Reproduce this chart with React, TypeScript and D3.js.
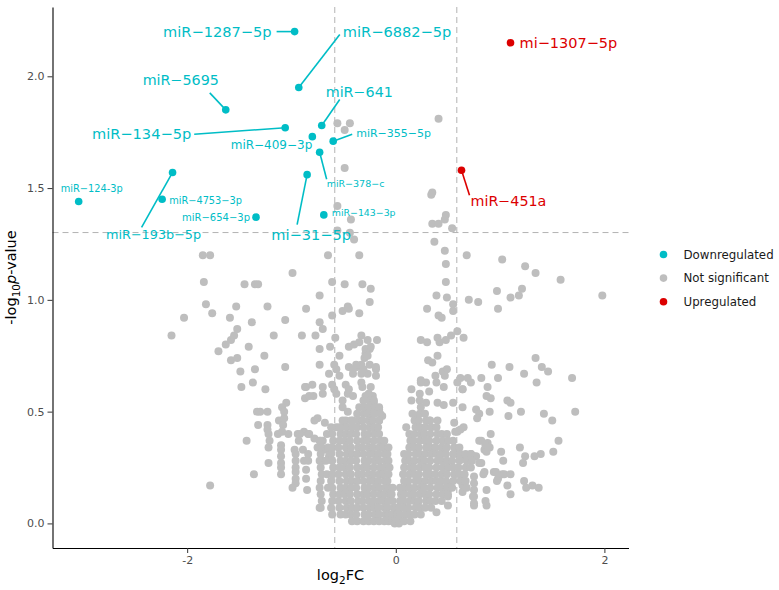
import React, { useEffect, useRef } from "react";
import * as d3 from "d3";

// significant miRNAs
const downNames = [
  "miR−1287−5p", "miR−6882−5p", "miR−5695", "miR−641", "miR−134−5p", "miR−409−3p", "miR−355−5p",
  "miR−378−c", "mi−31−5p", "miR−193b−5p", "miR−124-3p", "miR−4753−3p", "miR−654−3p", "miR−143−3p",
];
const downLog2FC = [-0.97, -0.93, -1.63, -0.71, -1.06, -0.8, -0.6, -0.73, -0.85, -2.14, -3.04, -2.24, -1.34, -0.69];
const downNegLogP = [2.2, 1.95, 1.85, 1.78, 1.77, 1.73, 1.71, 1.66, 1.56, 1.57, 1.44, 1.45, 1.37, 1.38];

const upNames = ["mi−1307−5p", "miR−451a"];
const upLog2FC = [1.1, 0.63];
const upNegLogP = [2.15, 1.58];

// not significant miRNAs [log2FC, -log10 p]
const notSignificant: [number, number][] = [
  // left, sparse
  [-2.15, 0.84], [-2.03, 0.92], [-1.85, 1.2], [-1.78, 1.2], [-1.84, 1.08], [-1.82, 0.98], [-1.76, 0.94], [-1.7, 0.77],
  [-1.63, 0.8], [-1.58, 0.82], [-1.55, 0.84], [-1.52, 0.87], [-1.45, 1.07], [-1.35, 1.07], [-1.32, 1.07], [-1.53, 0.97],
  [-1.59, 0.92], [-1.38, 0.9], [-1.41, 0.79], [-1.49, 0.68], [-1.35, 0.69], [-1.48, 0.61], [-1.37, 0.63], [-1.25, 0.6],
  [-1.26, 0.75], [-1.23, 0.97], [-1.17, 0.84], [-1.06, 0.91], [-0.99, 1.12], [-1.06, 0.7], [-1.78, 0.17], [-1.58, 0.73],
  [-1.52, 0.74], [-1.33, 0.5], [-1.3, 0.5], [-1.23, 0.5], [-1.32, 0.44], [-1.12, 0.46], [-1.07, 0.47], [-1.08, 0.44],
  [-1.05, 0.54], [-1.09, 0.52], [-1.07, 0.5], [-1.23, 0.44], [-1.23, 0.42], [-1.22, 0.4], [-1.13, 0.4], [-1.09, 0.41],
  [-1.03, 0.4], [-0.94, 0.4], [-0.88, 0.41], [-0.84, 0.4], [-1.21, 0.37], [-1.43, 0.37], [-0.93, 0.37], [-1.22, 0.34],
  [-1.1, 0.35], [-1.1, 0.33], [-1.1, 0.3], [-1.1, 0.27], [-1.1, 0.25], [-1.1, 0.22], [-0.97, 0.33], [-0.96, 0.31],
  [-0.88, 0.28], [-0.84, 0.28], [-0.96, 0.28], [-0.96, 0.25], [-0.96, 0.23], [-0.96, 0.2], [-0.96, 0.18], [-1.22, 0.27],
  [-0.86, 0.24], [-0.86, 0.2], [-0.85, 0.15], [-1.36, 0.22], [-0.99, 0.16], [-0.86, 0.96], [-0.9, 0.84], [-0.87, 0.61],
  [-0.87, 0.56], [-0.73, 0.07],
  // near the p threshold
  [-0.56, 1.79], [-0.49, 1.76], [-0.44, 1.79], [0.41, 1.81], [-0.49, 1.59], [0.35, 1.48], [0.34, 1.47], [-0.56, 1.42],
  [-0.43, 1.36], [0.48, 1.38], [0.35, 1.34], [0.41, 1.34], [0.47, 1.36], [0.54, 1.32], [-0.56, 1.31], [-0.44, 1.3],
  [-0.4, 1.27], [-0.65, 1.2], [-0.35, 1.2],
  // middle left
  [-0.61, 1.08], [-0.49, 1.07], [-0.32, 1.07], [-0.24, 1.05], [-0.73, 1.02], [-0.25, 0.99], [-0.51, 0.95], [-0.46, 0.97],
  [-0.45, 0.96], [-0.35, 0.94], [-0.61, 0.93], [-0.73, 0.9], [-0.7, 0.87], [-0.77, 0.84], [-0.58, 0.83], [-0.33, 0.84],
  [-0.27, 0.82], [-0.35, 0.81], [-0.18, 0.82], [-0.45, 0.79], [-0.4, 0.8], [-0.73, 0.78], [-0.63, 0.79], [-0.25, 0.78],
  [-0.29, 0.76], [-0.3, 0.74], [-0.54, 0.75], [-0.73, 0.71], [-0.59, 0.71], [-0.57, 0.69], [-0.45, 0.7], [-0.37, 0.7],
  [-0.33, 0.71], [-0.25, 0.71], [-0.19, 0.69], [-0.64, 0.67], [-0.54, 0.66], [-0.41, 0.67], [-0.33, 0.67], [-0.27, 0.67],
  [-0.19, 0.66], [-0.29, 0.78], [-0.27, 0.75], [-0.24, 0.79], [-0.38, 0.71], [-0.41, 0.69], [-0.31, 0.69], [-0.19, 0.7],
  [-0.86, 0.61], [-0.8, 0.62], [-0.7, 0.61], [-0.7, 0.58], [-0.61, 0.62], [-0.59, 0.6], [-0.57, 0.58], [-0.48, 0.62],
  [-0.46, 0.58], [-0.32, 0.61], [-0.24, 0.61], [-0.24, 0.56], [-0.83, 0.57], [-0.79, 0.57], [-0.51, 0.55], [-0.51, 0.52],
  [-0.46, 0.5], [-0.35, 0.52], [-0.75, 0.47], [-0.78, 0.46], [-0.68, 0.45], [-0.62, 0.43], [-0.57, 0.43], [-0.52, 0.43],
  [-0.51, 0.46], [-0.41, 0.46], [-0.32, 0.46], [-0.24, 0.49], [-0.21, 0.49], [-0.19, 0.5], [-0.16, 0.46], [-0.92, 0.4],
  [-0.83, 0.4], [-0.78, 0.38], [-0.73, 0.37], [-0.7, 0.37], [-0.89, 0.33], [-0.84, 0.31], [-0.75, 0.34], [-0.67, 0.33],
  [-0.64, 0.3], [-0.7, 0.28], [-0.33, 0.63], [-0.29, 0.57], [-0.27, 0.52], [-0.22, 0.57], [-0.21, 0.54], [-0.16, 0.51],
  [-0.13, 0.48], [-0.45, 0.6], [-0.41, 0.57],
  // middle right
  [0.15, 0.6], [0.23, 0.58], [0.24, 0.63], [0.29, 0.63], [0.32, 0.59], [0.39, 0.63], [0.46, 0.61], [0.59, 0.63],
  [0.64, 0.6], [0.72, 0.63], [0.15, 0.55], [0.29, 0.54], [0.4, 0.54], [0.46, 0.53], [0.32, 0.46], [0.4, 0.46],
  [0.65, 0.43], [0.59, 0.41], [0.16, 0.49], [0.19, 0.48], [0.1, 0.43], [0.82, 0.37], [0.88, 0.36], [0.85, 0.33],
  [0.61, 0.31], [0.67, 0.29], [0.72, 0.31], [0.77, 0.3], [0.82, 0.27], [0.94, 0.23], [0.98, 0.2], [1.02, 0.22],
  [0.85, 0.23], [0.75, 0.21], [0.75, 0.18], [0.75, 0.15], [0.75, 0.12], [0.75, 0.08], [0.64, 0.2], [0.64, 0.17],
  [0.64, 0.14], [0.5, 0.18], [0.5, 0.15], [0.5, 0.12], [0.5, 0.08], [0.39, 0.05],
  // right, sparse
  [0.37, 1.26], [0.47, 1.22], [0.68, 1.2], [1.02, 1.18], [0.48, 1.16], [0.48, 1.08], [0.97, 1.04], [1.1, 1.01],
  [0.39, 1.02], [0.49, 1.01], [0.55, 0.98], [0.7, 1.0], [0.79, 0.99], [0.3, 0.96], [0.55, 0.95], [0.98, 0.96],
  [0.41, 0.93], [0.44, 0.92], [0.59, 0.86], [0.53, 0.84], [0.24, 0.82], [0.3, 0.81], [0.4, 0.83], [0.42, 0.81],
  [0.48, 0.82], [0.65, 0.83], [0.31, 0.73], [0.35, 0.72], [0.4, 0.75], [0.92, 0.71], [1.09, 0.7], [0.45, 0.68],
  [0.49, 0.69], [0.38, 0.66], [0.47, 0.66], [0.24, 0.64], [0.62, 0.65], [0.69, 0.65], [0.82, 0.65], [0.98, 0.65],
  [1.24, 1.15], [1.34, 1.12], [1.58, 1.09], [1.98, 1.02], [1.21, 1.05], [1.18, 1.02], [1.34, 0.74], [1.4, 0.7],
  [1.46, 0.68], [1.23, 0.67], [1.35, 0.63], [1.69, 0.65], [0.88, 0.61], [0.64, 0.6], [0.87, 0.57], [0.91, 0.56],
  [1.07, 0.55], [1.1, 0.54], [0.77, 0.51], [0.8, 0.49], [0.78, 0.47], [0.9, 0.5], [1.08, 0.48], [1.2, 0.5],
  [1.42, 0.49], [1.72, 0.5], [1.5, 0.46], [0.64, 0.52], [0.55, 0.54], [0.62, 0.42], [0.57, 0.41], [0.56, 0.45],
  [0.91, 0.4], [0.8, 0.37], [0.86, 0.35], [0.9, 0.34], [0.87, 0.32], [1.56, 0.37], [1.19, 0.34], [1.01, 0.32],
  [1.03, 0.28], [1.24, 0.3], [1.22, 0.27], [1.33, 0.3], [1.39, 0.31], [1.51, 0.32], [0.58, 0.31], [0.68, 0.29],
  [0.75, 0.3], [0.8, 0.27], [0.84, 0.22], [0.96, 0.23], [0.97, 0.19], [1.04, 0.22], [1.1, 0.22], [1.07, 0.17],
  [1.1, 0.13], [0.87, 0.15], [1.23, 0.19], [1.25, 0.16], [1.31, 0.17], [1.37, 0.16], [0.86, 0.1], [0.87, 0.08],
  [0.74, 0.12], [0.75, 0.09],
  // dense core, left arm (column by column)
  [-0.72, 0.37], [-0.71, 0.34], [-0.72, 0.31], [-0.73, 0.28], [-0.72, 0.25], [-0.71, 0.22], [-0.72, 0.19], [-0.73, 0.16], [-0.72, 0.13], [-0.71, 0.1], [-0.72, 0.07],
  [-0.66, 0.4], [-0.65, 0.34], [-0.67, 0.28], [-0.66, 0.22], [-0.65, 0.16],
  [-0.61, 0.4], [-0.6, 0.37], [-0.61, 0.34], [-0.62, 0.31], [-0.61, 0.28], [-0.6, 0.25], [-0.61, 0.22], [-0.62, 0.19], [-0.61, 0.16], [-0.6, 0.13], [-0.61, 0.1], [-0.62, 0.07], [-0.61, 0.04],
  [-0.54, 0.43], [-0.53, 0.4], [-0.54, 0.37], [-0.55, 0.34], [-0.54, 0.31], [-0.53, 0.28], [-0.54, 0.25], [-0.55, 0.22], [-0.54, 0.19], [-0.53, 0.16], [-0.54, 0.13], [-0.55, 0.1], [-0.54, 0.07], [-0.53, 0.04],
  [-0.48, 0.46], [-0.47, 0.43], [-0.48, 0.4], [-0.49, 0.37], [-0.48, 0.34], [-0.47, 0.31], [-0.48, 0.28], [-0.49, 0.25], [-0.48, 0.22], [-0.47, 0.19], [-0.48, 0.16], [-0.49, 0.13], [-0.48, 0.1], [-0.47, 0.07], [-0.48, 0.04],
  [-0.43, 0.46], [-0.42, 0.43], [-0.43, 0.4], [-0.44, 0.37], [-0.43, 0.34], [-0.42, 0.31], [-0.43, 0.28], [-0.44, 0.25], [-0.43, 0.22], [-0.42, 0.19], [-0.43, 0.16], [-0.44, 0.13], [-0.43, 0.1], [-0.42, 0.07], [-0.43, 0.04], [-0.42, 0.01],
  [-0.37, 0.49], [-0.36, 0.46], [-0.37, 0.43], [-0.38, 0.4], [-0.37, 0.37], [-0.36, 0.34], [-0.37, 0.31], [-0.38, 0.28], [-0.37, 0.25], [-0.36, 0.22], [-0.37, 0.19], [-0.38, 0.16], [-0.37, 0.13], [-0.36, 0.1], [-0.37, 0.07], [-0.38, 0.04], [-0.37, 0.01],
  [-0.31, 0.55], [-0.3, 0.52], [-0.31, 0.49], [-0.32, 0.46], [-0.31, 0.43], [-0.3, 0.4], [-0.31, 0.37], [-0.32, 0.34], [-0.31, 0.31], [-0.3, 0.28], [-0.31, 0.25], [-0.32, 0.22], [-0.31, 0.19], [-0.3, 0.16], [-0.31, 0.13], [-0.32, 0.1], [-0.31, 0.07], [-0.3, 0.04], [-0.31, 0.01],
  [-0.26, 0.58], [-0.25, 0.55], [-0.26, 0.52], [-0.27, 0.49], [-0.26, 0.46], [-0.25, 0.43], [-0.26, 0.4], [-0.27, 0.37], [-0.26, 0.34], [-0.25, 0.31], [-0.26, 0.28], [-0.27, 0.25], [-0.26, 0.22], [-0.25, 0.19], [-0.26, 0.16], [-0.27, 0.13], [-0.26, 0.1], [-0.25, 0.07], [-0.26, 0.04], [-0.26, 0.01],
  [-0.21, 0.55], [-0.2, 0.52], [-0.21, 0.49], [-0.22, 0.46], [-0.21, 0.43], [-0.2, 0.4], [-0.21, 0.37], [-0.22, 0.34], [-0.21, 0.31], [-0.2, 0.28], [-0.21, 0.25], [-0.22, 0.22], [-0.21, 0.19], [-0.2, 0.16], [-0.21, 0.13], [-0.22, 0.1], [-0.21, 0.07], [-0.2, 0.04], [-0.21, 0.01],
  [-0.16, 0.52], [-0.15, 0.49], [-0.16, 0.46], [-0.17, 0.43], [-0.16, 0.4], [-0.15, 0.37], [-0.16, 0.34], [-0.17, 0.31], [-0.16, 0.28], [-0.15, 0.25], [-0.16, 0.22], [-0.17, 0.19], [-0.16, 0.16], [-0.15, 0.13], [-0.16, 0.1], [-0.17, 0.07], [-0.16, 0.04], [-0.16, 0.01],
  [-0.11, 0.37], [-0.12, 0.34], [-0.11, 0.31], [-0.1, 0.28], [-0.11, 0.25], [-0.12, 0.22], [-0.11, 0.19], [-0.1, 0.16], [-0.11, 0.13], [-0.12, 0.1], [-0.11, 0.07], [-0.1, 0.04], [-0.11, 0.01],
  [-0.07, 0.34], [-0.08, 0.31], [-0.07, 0.28], [-0.06, 0.25], [-0.07, 0.22], [-0.08, 0.19], [-0.07, 0.16], [-0.06, 0.13], [-0.07, 0.1], [-0.08, 0.07], [-0.07, 0.04], [-0.07, 0.01],
  [-0.03, 0.16], [-0.04, 0.13], [-0.03, 0.1], [-0.02, 0.07], [-0.03, 0.04], [-0.03, 0.01],
  [0.0, 0.07], [0.01, 0.04], [0.0, 0.01], [-0.01, 0.0],
  // dense core, right arm
  [0.04, 0.16], [0.05, 0.13], [0.04, 0.1], [0.03, 0.07], [0.04, 0.04], [0.05, 0.01], [0.03, 0.0],
  [0.08, 0.31], [0.09, 0.28], [0.08, 0.25], [0.07, 0.22], [0.08, 0.19], [0.09, 0.16], [0.08, 0.13], [0.07, 0.1], [0.08, 0.07], [0.09, 0.04], [0.08, 0.01],
  [0.13, 0.4], [0.14, 0.37], [0.13, 0.34], [0.12, 0.31], [0.13, 0.28], [0.14, 0.25], [0.13, 0.22], [0.12, 0.19], [0.13, 0.16], [0.14, 0.13], [0.13, 0.1], [0.12, 0.07], [0.13, 0.04], [0.14, 0.01],
  [0.18, 0.46], [0.19, 0.43], [0.18, 0.4], [0.17, 0.37], [0.18, 0.34], [0.19, 0.31], [0.18, 0.28], [0.17, 0.25], [0.18, 0.22], [0.19, 0.19], [0.18, 0.16], [0.17, 0.13], [0.18, 0.1], [0.19, 0.07], [0.18, 0.04],
  [0.23, 0.55], [0.24, 0.52], [0.23, 0.49], [0.22, 0.46], [0.23, 0.43], [0.24, 0.4], [0.23, 0.37], [0.22, 0.34], [0.23, 0.31], [0.24, 0.28], [0.23, 0.25], [0.22, 0.22], [0.23, 0.19], [0.24, 0.16], [0.23, 0.13], [0.22, 0.1], [0.23, 0.07], [0.24, 0.04],
  [0.28, 0.49], [0.29, 0.46], [0.28, 0.43], [0.27, 0.4], [0.28, 0.37], [0.29, 0.34], [0.28, 0.31], [0.27, 0.28], [0.28, 0.25], [0.29, 0.22], [0.28, 0.19], [0.27, 0.16], [0.28, 0.13], [0.29, 0.1], [0.28, 0.07],
  [0.33, 0.46], [0.34, 0.43], [0.33, 0.4], [0.32, 0.37], [0.33, 0.34], [0.34, 0.31], [0.33, 0.28], [0.32, 0.25], [0.33, 0.22], [0.34, 0.19], [0.33, 0.16], [0.32, 0.13], [0.33, 0.1], [0.34, 0.07],
  [0.39, 0.43], [0.4, 0.4], [0.39, 0.37], [0.38, 0.34], [0.39, 0.31], [0.4, 0.28], [0.39, 0.25], [0.38, 0.22], [0.39, 0.19], [0.4, 0.16], [0.39, 0.13], [0.38, 0.1],
  [0.44, 0.4], [0.45, 0.37], [0.44, 0.34], [0.43, 0.31], [0.44, 0.28], [0.45, 0.25], [0.44, 0.22], [0.43, 0.19], [0.44, 0.16], [0.45, 0.13], [0.44, 0.1],
  [0.49, 0.4], [0.5, 0.37], [0.49, 0.34], [0.48, 0.31], [0.49, 0.28], [0.5, 0.25], [0.49, 0.22], [0.48, 0.19], [0.49, 0.16], [0.5, 0.13],
  [0.55, 0.37], [0.56, 0.34], [0.55, 0.31], [0.54, 0.28], [0.55, 0.25], [0.56, 0.22], [0.55, 0.19], [0.54, 0.16],
  [0.61, 0.34], [0.62, 0.31], [0.61, 0.28], [0.6, 0.25], [0.61, 0.22], [0.62, 0.19],
  [0.67, 0.31], [0.68, 0.28], [0.67, 0.25], [0.66, 0.22], [0.67, 0.19], [0.68, 0.16],
  [0.72, 0.31], [0.73, 0.28], [0.72, 0.25],
];

const xTicks = [-2, 0, 2];
const yTicks = [0, 0.5, 1, 1.5, 2];
const legendLabels = ["Downregulated", "Not significant", "Upregulated"];

const fcCutoff = Math.log2(1.5);
const pCutoff = -Math.log10(0.05);

const COL_DOWN = "#00BDC6";
const COL_NS = "#BEBEBE";
const COL_UP = "#DC0000";

// where the repelled labels sit, in px from their point
const labelPos: Record<string, { anchor: string; dx: number; dy: number; size: number; seg?: [number, number] }> = {
  "miR−1287−5p": { anchor: "end", dx: -23, dy: 0, size: 14.6, seg: [-18, 0] },
  "miR−6882−5p": { anchor: "start", dx: 44, dy: -56, size: 14.6, seg: [41, -53] },
  "miR−5695": { anchor: "middle", dx: -45, dy: -30, size: 14.3, seg: [-16, -17] },
  "miR−641": { anchor: "start", dx: 4, dy: -33, size: 14.3, seg: [18, -26] },
  "miR−134−5p": { anchor: "end", dx: -94, dy: 6, size: 14.6, seg: [-91, 6.5] },
  "miR−409−3p": { anchor: "end", dx: 0, dy: 8.5, size: 12 },
  "miR−355−5p": { anchor: "start", dx: 23, dy: -8, size: 11, seg: [19, -7] },
  "miR−378−c": { anchor: "start", dx: 7, dy: 31, size: 9.5, seg: [7, 27] },
  "mi−31−5p": { anchor: "middle", dx: 4, dy: 60, size: 14.6, seg: [-10, 50] },
  "miR−193b−5p": { anchor: "middle", dx: -19, dy: 62, size: 12.8, seg: [-31, 55] },
  "miR−124-3p": { anchor: "middle", dx: 13, dy: -13, size: 9.8 },
  "miR−4753−3p": { anchor: "start", dx: 7, dy: 1, size: 9.8 },
  "miR−654−3p": { anchor: "end", dx: -6, dy: 0, size: 10 },
  "miR−143−3p": { anchor: "start", dx: 8, dy: -2, size: 9.4 },
  "mi−1307−5p": { anchor: "start", dx: 9, dy: 0.5, size: 14.5 },
  "miR−451a": { anchor: "start", dx: 9, dy: 31, size: 14.3, seg: [8, 25] },
};

const W = 779, H = 590;
const panel = { left: 52.5, right: 628.5, top: 7, bottom: 548 };
const FONT = "DejaVu Sans, Verdana, sans-serif";

export default function App() {
  const ref = useRef<SVGSVGElement>(null);

  useEffect(() => {
    const svg = d3.select(ref.current);
    svg.selectAll("*").remove();

    const down = downNames.map((name, i) => ({ name, fc: downLog2FC[i], p: downNegLogP[i], color: COL_DOWN }));
    const up = upNames.map((name, i) => ({ name, fc: upLog2FC[i], p: upNegLogP[i], color: COL_UP }));
    const sig = [...down, ...up];

    // ggplot-style 5% expansion
    const allX = [...notSignificant.map(d => d[0]), ...downLog2FC, ...upLog2FC];
    const allY = [...notSignificant.map(d => d[1]), ...downNegLogP, ...upNegLogP];
    const [xMin, xMax] = d3.extent(allX) as [number, number];
    const [yMin, yMax] = d3.extent(allY) as [number, number];
    const xPad = (xMax - xMin) * 0.05, yPad = (yMax - yMin) * 0.05;

    const x = d3.scaleLinear().domain([xMin - xPad, xMax + xPad]).range([panel.left, panel.right]);
    const y = d3.scaleLinear().domain([yMin - yPad, yMax + yPad]).range([panel.bottom, panel.top]);

    // threshold lines
    const guides = svg.append("g").attr("stroke", "#b3b3b3").attr("stroke-width", 1).attr("fill", "none");
    [-fcCutoff, fcCutoff].forEach(v => {
      guides.append("line")
        .attr("x1", x(v)).attr("x2", x(v))
        .attr("y1", panel.top).attr("y2", panel.bottom)
        .attr("stroke-dasharray", "6 4");
    });
    guides.append("line")
      .attr("x1", panel.left).attr("x2", panel.right)
      .attr("y1", y(pCutoff)).attr("y2", y(pCutoff))
      .attr("stroke-dasharray", "6 4");

    // points
    svg.append("g").selectAll("circle")
      .data(notSignificant)
      .enter().append("circle")
      .attr("cx", d => x(d[0]))
      .attr("cy", d => y(d[1]))
      .attr("r", 4)
      .attr("fill", COL_NS);

    svg.append("g").selectAll("circle")
      .data(sig)
      .enter().append("circle")
      .attr("cx", d => x(d.fc))
      .attr("cy", d => y(d.p))
      .attr("r", 3.8)
      .attr("fill", d => d.color);

    // label segments + labels
    const lab = svg.append("g").attr("font-family", FONT);
    sig.forEach(d => {
      const pos = labelPos[d.name];
      const cx = x(d.fc), cy = y(d.p);
      if (pos.seg) {
        lab.append("line")
          .attr("x1", cx + pos.seg[0]).attr("y1", cy + pos.seg[1])
          .attr("x2", cx).attr("y2", cy)
          .attr("stroke", d.color)
          .attr("stroke-width", 1.6);
      }
      lab.append("text")
        .attr("x", cx + pos.dx)
        .attr("y", cy + pos.dy)
        .attr("text-anchor", pos.anchor)
        .attr("dominant-baseline", "central")
        .attr("font-size", pos.size)
        .attr("fill", d.color)
        .text(d.name);
    });

    // axes
    const xAxis = svg.append("g")
      .attr("transform", `translate(0,${panel.bottom})`)
      .call(d3.axisBottom(x).tickValues(xTicks).tickFormat(d => String(d)).tickSize(5).tickSizeOuter(0).tickPadding(3));
    const yAxis = svg.append("g")
      .attr("transform", `translate(${panel.left},0)`)
      .call(d3.axisLeft(y).tickValues(yTicks).tickFormat(d3.format(".1f")).tickSize(5).tickSizeOuter(0).tickPadding(3));

    [xAxis, yAxis].forEach(g => {
      g.select(".domain").attr("stroke", "#000").attr("stroke-width", 1.1);
      g.selectAll(".tick line").attr("stroke", "#333333").attr("stroke-width", 1);
      g.selectAll(".tick text").attr("fill", "#4d4d4d").attr("font-size", 11).attr("font-family", FONT);
    });

    // axis titles
    const xt = svg.append("text")
      .attr("x", (panel.left + panel.right) / 2)
      .attr("y", 580)
      .attr("text-anchor", "middle")
      .attr("font-family", FONT)
      .attr("font-size", 14.5)
      .attr("fill", "#000");
    xt.append("tspan").text("log");
    xt.append("tspan").attr("dy", 4).attr("font-size", 10.5).text("2");
    xt.append("tspan").attr("dy", -4).text("FC");

    const yt = svg.append("text")
      .attr("transform", `translate(15.5,${(panel.top + panel.bottom) / 2}) rotate(-90)`)
      .attr("text-anchor", "middle")
      .attr("font-family", FONT)
      .attr("font-size", 14.5)
      .attr("fill", "#000");
    yt.append("tspan").text("-log");
    yt.append("tspan").attr("dy", 4).attr("font-size", 10.5).text("10");
    yt.append("tspan").attr("dy", -4).attr("font-style", "italic").text("p");
    yt.append("tspan").text("-value");

    // legend
    const legendColors = [COL_DOWN, COL_NS, COL_UP];
    const lg = svg.append("g").attr("transform", "translate(663.5,254.5)");
    legendLabels.forEach((t, i) => {
      const row = lg.append("g").attr("transform", `translate(0,${i * 23.6})`);
      row.append("circle").attr("r", 3.8).attr("fill", legendColors[i]);
      row.append("text")
        .attr("x", 20)
        .attr("dominant-baseline", "central")
        .attr("font-family", FONT)
        .attr("font-size", 11.8)
        .attr("fill", "#1a1a1a")
        .text(t);
    });
  }, []);

  return (
    <svg ref={ref} width={W} height={H} style={{ position: "absolute", left: 0, top: 0, background: "#fff" }} />
  );
}
